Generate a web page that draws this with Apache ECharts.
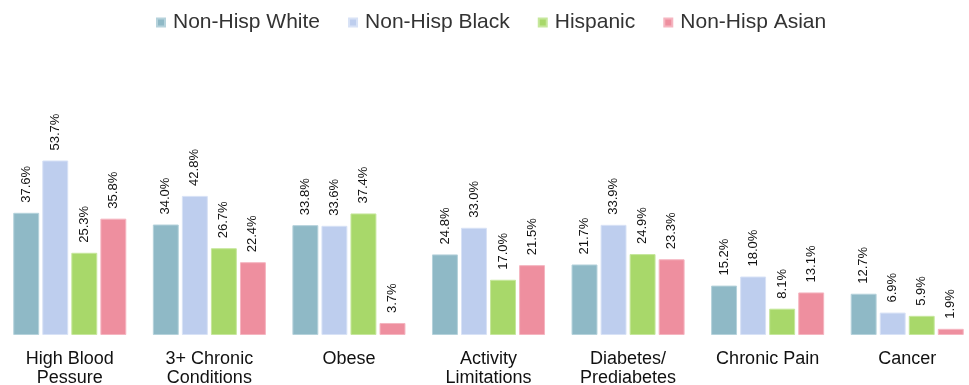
<!DOCTYPE html>
<html>
<head>
<meta charset="utf-8">
<script src="https://cdn.jsdelivr.net/npm/echarts@6/dist/echarts.min.js"></script>
<style>html,body{margin:0;padding:0;background:#fff}#c{width:969px;height:385px}</style>
</head>
<body>
<div id="c"></div>
<script>
const categories = ['High Blood\nPessure', '3+ Chronic\nConditions', 'Obese', 'Activity\nLimitations', 'Diabetes/\nPrediabetes', 'Chronic Pain', 'Cancer'];
const seriesNames = ['Non-Hisp White', 'Non-Hisp Black', 'Hispanic', 'Non-Hisp Asian'];
const nhWhite = [37.6, 34.0, 33.8, 24.8, 21.7, 15.2, 12.7];
const nhBlack = [53.7, 42.8, 33.6, 33.0, 33.9, 18.0, 6.9];
const hispanic = [25.3, 26.7, 37.4, 17.0, 24.9, 8.1, 5.9];
const nhAsian = [35.8, 22.4, 3.7, 21.5, 23.3, 13.1, 1.9];

const colors = ['#8FB9C6', '#BECEEE', '#A8D86A', '#EE8F9F'];
const borders = ['#B5D2DB', '#D8E2F6', '#C6E79C', '#F5B5C0'];
const data = [nhWhite, nhBlack, hispanic, nhAsian];
const font = '"Liberation Sans", Arial, sans-serif';

const chart = echarts.init(document.getElementById('c'));
chart.setOption({
  animation: false,
  textStyle: { fontFamily: font },
  legend: {
    top: 7,
    left: 151,
    itemWidth: 8,
    itemHeight: 8,
    itemGap: 28,
    icon: 'rect',
    textStyle: { fontSize: 21, color: '#333', padding: [0, 0, 0, 3], fontFamily: font },
    data: seriesNames
  },
  grid: { left: 0, right: -8, top: 140, bottom: 50, containLabel: false, outerBoundsMode: 'none' },
  xAxis: {
    type: 'category',
    data: categories,
    axisLine: { show: false },
    axisTick: { show: false },
    axisLabel: { fontSize: 18, fontFamily: font, color: '#111', lineHeight: 19, margin: 15, interval: 0 }
  },
  yAxis: {
    type: 'value', min: 0, max: 60,
    show: false,
    splitLine: { show: false }
  },
  series: seriesNames.map((n, i) => ({
    name: n,
    type: 'bar',
    data: data[i],
    barGap: '12%',
    barCategoryGap: '19%',
    itemStyle: { color: colors[i], borderColor: borders[i], borderWidth: 1 },
    label: {
      show: true,
      position: 'top',
      rotate: 90,
      align: 'left',
      verticalAlign: 'middle',
      distance: 10,
      fontSize: 13,
      fontFamily: font,
      color: '#111',
      formatter: p => p.value.toFixed(1) + '%'
    }
  }))
});
</script>
</body>
</html>
